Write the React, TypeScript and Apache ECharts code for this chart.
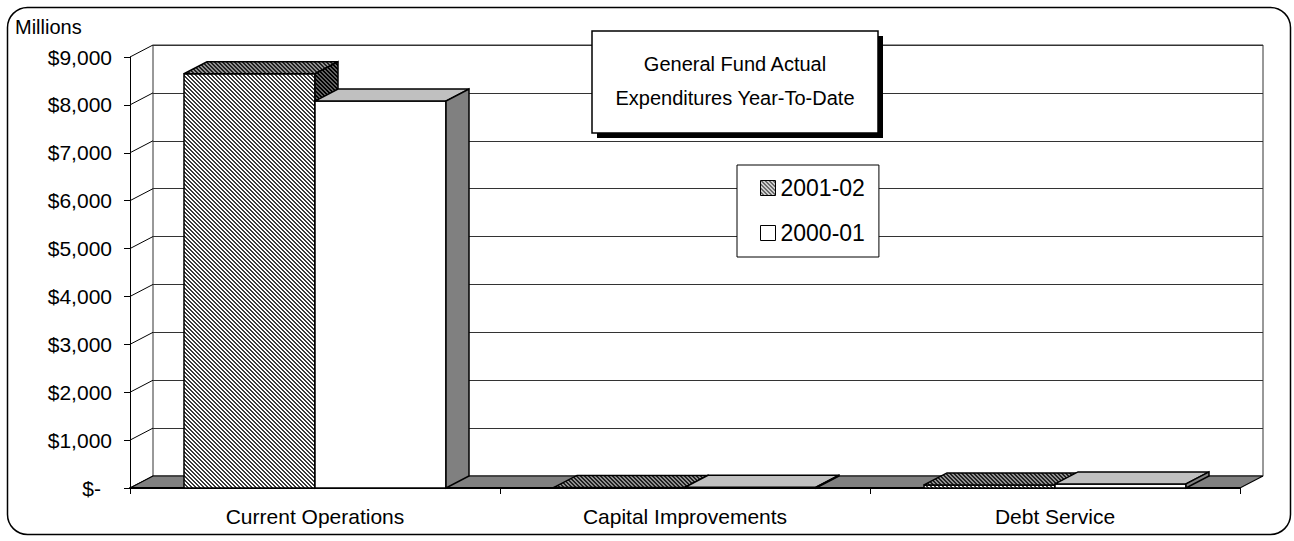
import React, { useEffect, useRef } from "react";
import * as echarts from "echarts";

// ---- data ----
const categories = ["Current Operations", "Capital Improvements", "Debt Service"];
const seriesNames = ["2001-02", "2000-01"];
const values2001 = [8650, 12, 65];
const values2000 = [8080, 15, 85];
const yTickValues = [0, 1000, 2000, 3000, 4000, 5000, 6000, 7000, 8000, 9000];
const titleLines = ["General Fund Actual", "Expenditures Year-To-Date"];
const unitLabel = "Millions";

// ---- layout / style ----
const FONT = '"Liberation Sans", Arial, sans-serif';
const AXIS_FS = 21;
const LEGEND_FS = 23;
const TITLE_FS = 20;
const DX = 23;
const DY = -12;
const BAR_FRACTION = 131 / 370;

function hatch(bg: string, fg: string, period: number, darkCount: number) {
  const c = document.createElement("canvas");
  c.width = period;
  c.height = period;
  const ctx = c.getContext("2d")!;
  ctx.fillStyle = bg;
  ctx.fillRect(0, 0, period, period);
  ctx.fillStyle = fg;
  for (let y = 0; y < period; y++) {
    for (let x = 0; x < period; x++) {
      const m = (((x - y) % period) + period) % period;
      if (m < darkCount) ctx.fillRect(x, y, 1, 1);
    }
  }
  return { image: c.toDataURL(), repeat: "repeat", imageWidth: period, imageHeight: period } as any;
}

export default function App() {
  const ref = useRef<HTMLDivElement>(null);
  useEffect(() => {
    if (!ref.current) return;
    const chart = echarts.init(ref.current, undefined, { renderer: "svg" });

    const hatchFront = hatch("#ffffff", "#3a3a3a", 4, 2);
    const hatchTop = hatch("#909090", "#202020", 4, 2);
    const hatchSide = hatch("#606060", "#000000", 4, 2);
    const fills = [
      { front: hatchFront, top: hatchTop, side: hatchSide },
      { front: "#ffffff", top: "#c0c0c0", side: "#808080" },
    ];

    const barSeries = (name: string, values: number[], slot: number) => ({
      type: "custom",
      name,
      coordinateSystem: "cartesian2d",
      xAxisIndex: 0,
      yAxisIndex: 0,
      z: 3 + slot,
      data: values.map((v, i) => [i, v]),
      renderItem: (params: any, api: any) => {
        const ci = api.value(0);
        const v = api.value(1);
        const base = api.coord([ci, 0]);
        const top = api.coord([ci, v]);
        const band = api.size([1, 0])[0];
        const bw = band * BAR_FRACTION;
        const xl = slot === 0 ? base[0] - bw : base[0];
        const xr = xl + bw;
        const yt = top[1];
        const yb = base[1];
        const f = fills[slot];
        const st = { stroke: "#000", lineWidth: 1.5, lineJoin: "miter" };
        return {
          type: "group",
          children: [
            {
              type: "polygon",
              shape: { points: [[xl, yb], [xr, yb], [xr, yt], [xl, yt]] },
              style: { fill: f.front, ...st },
            },
            {
              type: "polygon",
              shape: { points: [[xl, yt], [xr, yt], [xr + DX, yt + DY], [xl + DX, yt + DY]] },
              style: { fill: f.top, ...st },
            },
            {
              type: "polygon",
              shape: { points: [[xr, yb], [xr, yt], [xr + DX, yt + DY], [xr + DX, yb + DY]] },
              style: { fill: f.side, ...st },
            },
          ],
        };
      },
    });

    const option: any = {
      animation: false,
      textStyle: { fontFamily: FONT, color: "#000" },
      grid: [
        { left: 130, top: 57, width: 1110, height: 431 },
        { left: 153, top: 45, width: 1110, height: 431, show: true, borderColor: "#333", borderWidth: 1, backgroundColor: "transparent" },
      ],
      xAxis: [
        {
          type: "category",
          gridIndex: 0,
          data: categories,
          axisLine: { lineStyle: { color: "#000", width: 2 } },
          axisTick: { show: true, length: 6, interval: 0, lineStyle: { color: "#000", width: 1 } },
          axisLabel: { margin: 18, fontSize: AXIS_FS, color: "#000", fontFamily: FONT, interval: 0 },
        },
        { type: "category", gridIndex: 1, data: categories, show: false },
      ],
      yAxis: [
        {
          type: "value",
          gridIndex: 0,
          min: 0,
          max: 9000,
          interval: 1000,
          axisLine: { show: true, lineStyle: { color: "#000", width: 1 } },
          axisTick: { show: true, length: 6, lineStyle: { color: "#000", width: 1 } },
          splitLine: { show: false },
          axisLabel: {
            margin: 18,
            fontSize: AXIS_FS,
            color: "#000",
            fontFamily: FONT,
            formatter: (v: number) => (v === 0 ? "{z|$-}" : "$" + v.toLocaleString("en-US")),
            rich: { z: { fontSize: AXIS_FS, fontFamily: FONT, color: "#000", padding: [0, 11, 0, 0] } },
          },
        },
        {
          type: "value",
          gridIndex: 1,
          min: 0,
          max: 9000,
          interval: 1000,
          axisLine: { show: false },
          axisTick: { show: false },
          axisLabel: { show: false },
          splitLine: { show: true, lineStyle: { color: "#333", width: 1 } },
        },
      ],
      legend: {
        orient: "vertical",
        left: 737,
        top: 165,
        padding: [11, 14, 12, 23],
        itemWidth: 15,
        itemHeight: 15,
        itemGap: 21,
        borderColor: "#000",
        borderWidth: 1,
        backgroundColor: "#fff",
        textStyle: { fontSize: LEGEND_FS, lineHeight: 24, color: "#000", fontFamily: FONT },
        data: [
          { name: seriesNames[0], icon: "rect", itemStyle: { color: hatchFront, borderColor: "#000", borderWidth: 1 } },
          { name: seriesNames[1], icon: "rect", itemStyle: { color: "#fff", borderColor: "#000", borderWidth: 1 } },
        ],
        z: 20,
      },
      graphic: [
        {
          type: "rect",
          shape: { x: 7.5, y: 7.5, width: 1283, height: 527, r: 20 },
          style: { fill: "none", stroke: "#000", lineWidth: 1.5 },
          silent: true,
          z: 50,
        },
        {
          type: "text",
          x: 15,
          y: 27,
          style: { text: unitLabel, font: `20px ${FONT}`, fill: "#000", verticalAlign: "middle", align: "left" },
          z: 50,
        },
        {
          type: "rect",
          shape: { x: 597, y: 36, width: 286, height: 102 },
          style: { fill: "#000" },
          z: 50,
        },
        {
          type: "rect",
          shape: { x: 592, y: 31, width: 286, height: 102 },
          style: { fill: "#fff", stroke: "#000", lineWidth: 1.5 },
          z: 51,
        },
        {
          type: "text",
          x: 735,
          y: 81,
          style: {
            text: titleLines.join("\n"),
            font: `${TITLE_FS}px ${FONT}`,
            lineHeight: 34,
            fill: "#000",
            align: "center",
            verticalAlign: "middle",
          },
          z: 52,
        },
      ],
      series: [
        {
          type: "custom",
          name: "walls",
          coordinateSystem: "cartesian2d",
          xAxisIndex: 0,
          yAxisIndex: 0,
          silent: true,
          z: 1,
          data: yTickValues.map((v) => [0, v]),
          renderItem: (params: any, api: any) => {
            const cs = params.coordSys;
            const p = api.coord([0, api.value(1)]);
            return {
              type: "line",
              shape: { x1: cs.x, y1: p[1], x2: cs.x + DX, y2: p[1] + DY },
              style: { stroke: "#000", lineWidth: 1 },
            };
          },
        },
        {
          type: "custom",
          name: "floor",
          coordinateSystem: "cartesian2d",
          xAxisIndex: 0,
          yAxisIndex: 0,
          silent: true,
          z: 2,
          data: [[0, 0]],
          renderItem: (params: any, api: any) => {
            const cs = params.coordSys;
            const y0 = api.coord([0, 0])[1];
            const x0 = cs.x;
            const x1 = cs.x + cs.width;
            return {
              type: "group",
              children: [
                {
                  type: "polygon",
                  shape: { points: [[x0, y0], [x1, y0], [x1 + DX, y0 + DY], [x0 + DX, y0 + DY]] },
                  style: { fill: "#808080", stroke: "#000", lineWidth: 1.2 },
                },
                {
                  type: "line",
                  shape: { x1: x0, y1: y0, x2: x1, y2: y0 },
                  style: { stroke: "#000", lineWidth: 2 },
                },
              ],
            };
          },
        },
        barSeries(seriesNames[0], values2001, 0),
        barSeries(seriesNames[1], values2000, 1),
      ],
    };

    chart.setOption(option);
    return () => chart.dispose();
  }, []);

  return (
    <div
      ref={ref}
      style={{ position: "fixed", left: 0, top: 0, width: 1294, height: 541, background: "#fff" }}
    />
  );
}
